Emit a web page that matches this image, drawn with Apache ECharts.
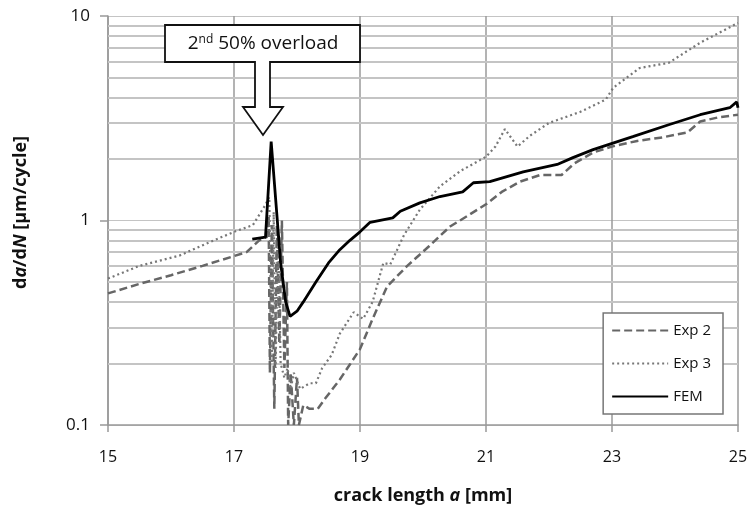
<!DOCTYPE html>
<html><head><meta charset="utf-8">
<script src="https://cdn.jsdelivr.net/npm/echarts@6/dist/echarts.min.js"></script>
<style>html,body{margin:0;padding:0;background:#fff}#c{width:753px;height:510px}</style>
</head><body><div id="c"></div>
<script>
const xTicks = [15, 17, 19, 21, 23, 25];
const yMajor = [0.1, 1, 10];
const yMinor = [0.2,0.3,0.4,0.5,0.6,0.7,0.8,0.9,2,3,4,5,6,7,8,9];
const seriesNames = ['Exp 2', 'Exp 3', 'FEM'];
const exp2 = [[15,0.44],[15.5,0.49],[16,0.54],[16.5,0.6],[17,0.67],[17.2,0.7],[17.4,0.8],[17.52,0.83],[17.55,1.05],[17.57,0.18],[17.6,0.95],[17.64,0.12],[17.68,0.95],[17.72,0.25],[17.76,1.0],[17.8,0.19],[17.84,0.5],[17.86,0.1],[17.9,0.18],[17.95,0.1],[18.0,0.17],[18.03,0.1],[18.1,0.125],[18.2,0.12],[18.33,0.12],[18.45,0.135],[18.6,0.155],[18.68,0.167],[18.85,0.2],[19.0,0.235],[19.2,0.33],[19.43,0.476],[19.75,0.6],[20.1,0.75],[20.43,0.935],[20.7,1.05],[21,1.2],[21.25,1.38],[21.54,1.55],[21.86,1.67],[22.2,1.67],[22.4,1.9],[22.7,2.15],[23,2.3],[23.4,2.45],[23.8,2.55],[24.2,2.7],[24.4,3.05],[24.7,3.2],[25,3.29]];
const exp3 = [[15,0.52],[15.5,0.6],[16.14,0.675],[16.6,0.78],[17,0.88],[17.3,0.95],[17.49,1.18],[17.56,1.3],[17.6,0.2],[17.63,1.1],[17.66,0.19],[17.7,0.9],[17.74,0.2],[17.8,0.17],[17.85,0.19],[17.9,0.15],[17.95,0.18],[18.05,0.15],[18.2,0.16],[18.3,0.16],[18.4,0.19],[18.55,0.22],[18.68,0.28],[18.9,0.356],[19.05,0.33],[19.2,0.40],[19.37,0.62],[19.48,0.61],[19.7,0.85],[19.95,1.13],[20.27,1.47],[20.6,1.75],[21,2.05],[21.15,2.3],[21.3,2.8],[21.5,2.3],[21.7,2.6],[22.0,3.0],[22.5,3.4],[22.9,3.9],[23.02,4.46],[23.44,5.57],[23.9,5.9],[24.4,7.4],[25,9.25]];
const fem = [[17.29,0.81],[17.5,0.83],[17.59,2.43],[17.74,0.62],[17.82,0.40],[17.89,0.34],[18.0,0.36],[18.1,0.40],[18.3,0.5],[18.5,0.62],[18.68,0.72],[18.84,0.8],[19.0,0.88],[19.16,0.98],[19.52,1.03],[19.64,1.11],[19.95,1.22],[20.27,1.31],[20.63,1.38],[20.8,1.53],[21.06,1.55],[21.59,1.73],[22.13,1.88],[22.38,2.03],[22.7,2.22],[23.33,2.57],[23.9,2.94],[24.4,3.29],[24.87,3.56],[24.98,3.8],[25,3.56]];

const chart = echarts.init(document.getElementById('c'));
const font = 'Open Sans, Lato, sans-serif';
const nameRich = (fs) => ({
  b: {fontSize: fs, fontWeight: 'bold', color: '#111', fontFamily: font},
  bi: {fontSize: fs, fontWeight: 'bold', fontStyle: 'italic', color: '#111', fontFamily: font}
});
chart.setOption({
  animation: false,
  grid: {left: 108, right: 15, top: 16, bottom: 84},
  xAxis: {
    type: 'value', min: xTicks[0], max: xTicks[xTicks.length-1], interval: 2,
    axisLine: {lineStyle: {color: '#999', width: 1.5}},
    axisTick: {length: 7, lineStyle: {color: '#999', width: 1.5}},
    axisLabel: {margin: 24, fontSize: 16, color: '#111', fontFamily: font},
    splitLine: {lineStyle: {color: '#9a9a9a', width: 1.5}},
    name: '{b|crack length }{bi|a}{b| [mm]}', nameLocation: 'middle', nameGap: 62,
    nameTextStyle: {rich: nameRich(18)}
  },
  yAxis: {
    type: 'log', logBase: 10, min: yMajor[0], max: yMajor[yMajor.length-1],
    axisLine: {show: true, lineStyle: {color: '#999', width: 1.5}},
    axisTick: {show: true, length: 8, lineStyle: {color: '#999', width: 1.5}},
    axisLabel: {margin: 18, fontSize: 17, color: '#111', fontFamily: font, formatter: v => String(v)},
    splitLine: {lineStyle: {color: '#c4c4c4', width: 1.2}},
    name: '{b|d}{bi|a}{b|/d}{bi|N}{b| [µm/cycle]}', nameLocation: 'middle', nameGap: 78,
    nameTextStyle: {rich: nameRich(18), padding: [0, 0, 0, 16]}
  },
  legend: {
    orient: 'vertical', right: 30, top: 313, data: seriesNames, z: 50,
    backgroundColor: '#fff', borderColor: '#777', borderWidth: 1.5,
    padding: [10, 12, 10, 8], itemWidth: 56, itemHeight: 14, itemGap: 18,
    itemStyle: {opacity: 0},
    textStyle: {fontSize: 15, color: '#111', fontFamily: font}
  },
  series: [
    {name: 'grid', type: 'line', data: [], silent: true, z: 1,
     markLine: {silent: true, symbol: 'none', label: {show: false}, z: 1,
       lineStyle: {type: 'solid', color: '#c4c4c4', width: 2},
       data: yMinor.map(v => ({yAxis: v}))}},
    {name: seriesNames[0], type: 'line', data: exp2, symbol: 'none', z: 3, color: '#666',
     lineStyle: {color: '#666', width: 2.5, type: [8, 4]}},
    {name: seriesNames[1], type: 'line', data: exp3, symbol: 'none', z: 3, color: '#777',
     lineStyle: {color: '#777', width: 2.2, type: [2, 3]}},
    {name: seriesNames[2], type: 'line', data: fem, symbol: 'none', z: 4, color: '#000',
     lineStyle: {color: '#000', width: 2.8}}
  ],
  graphic: [
    {type: 'polygon', z: 100,
     shape: {points: [[165,25],[360,25],[360,62],[270,62],[270,107],[283,107],[263,135],[243,107],[255,107],[255,62],[165,62]]},
     style: {fill: '#fff', stroke: '#111', lineWidth: 1.8}},
    {type: 'text', z: 101, x: 263, y: 44,
     style: {text: '{n|2}{s|nd}{n| 50% overload}', align: 'center', verticalAlign: 'middle',
       rich: {n: {fontSize: 19, fill: '#111', fontFamily: font}, s: {fontSize: 12, fill: '#111', fontFamily: font, verticalAlign: 'top', padding: [0,0,8,0]}}}}
  ]
});
</script></body></html>
